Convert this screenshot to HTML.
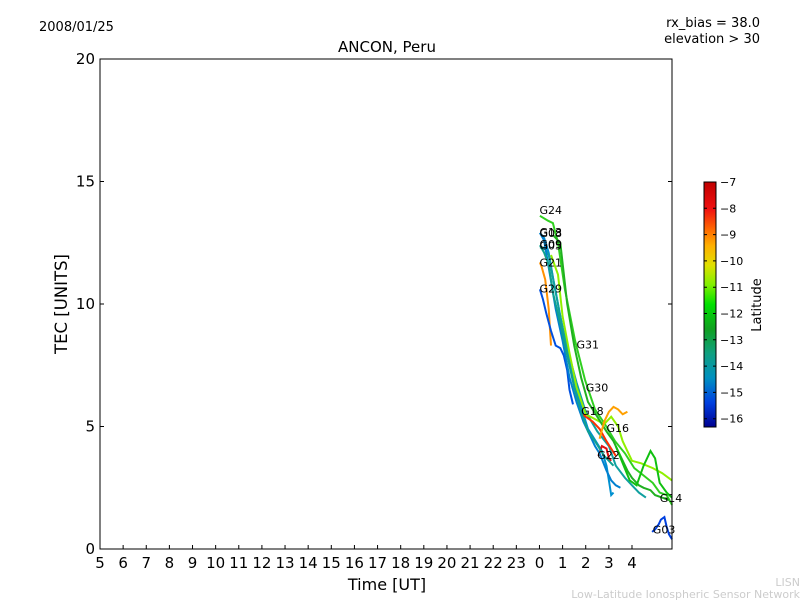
<!DOCTYPE html>
<html><head><meta charset="utf-8"><style>
body{margin:0;background:#fff;}
svg{display:block;font-family:"DejaVu Sans","Liberation Sans",sans-serif;}
</style></head><body>
<svg id="chart" width="800" height="600">
<defs><linearGradient id="jet" x1="0" y1="0" x2="0" y2="1">
<stop offset="0" stop-color="#c00000"/><stop offset="0.11" stop-color="#f01010"/>
<stop offset="0.2" stop-color="#ff7000"/><stop offset="0.26" stop-color="#ffb000"/>
<stop offset="0.34" stop-color="#e0e000"/><stop offset="0.42" stop-color="#80f000"/>
<stop offset="0.5" stop-color="#00e000"/><stop offset="0.6" stop-color="#10a020"/>
<stop offset="0.7" stop-color="#10a080"/><stop offset="0.8" stop-color="#0090c0"/>
<stop offset="0.9" stop-color="#0040e0"/><stop offset="1" stop-color="#000090"/>
</linearGradient></defs>
<text x="39" y="31" font-size="13">2008/01/25</text>
<text x="760" y="27" font-size="13" text-anchor="end">rx_bias = 38.0</text>
<text x="760" y="43" font-size="13" text-anchor="end">elevation &gt; 30</text>
<text x="387" y="52" font-size="15" text-anchor="middle">ANCON, Peru</text>
<g id="series"></g>
<rect x="100" y="59" width="572" height="490" fill="none" stroke="#000"/>
<g id="xticks"></g>
<g id="yticks"></g>
<text x="387" y="590" font-size="16" text-anchor="middle">Time [UT]</text>
<text transform="translate(67,304) rotate(-90)" font-size="16.5" text-anchor="middle">TEC [UNITS]</text>
<rect x="704" y="182" width="12" height="245" fill="url(#jet)" stroke="#000"/>
<g id="cbticks"></g>
<text transform="translate(761,305) rotate(-90)" font-size="13" text-anchor="middle">Latitude</text>
<text x="800" y="586" font-size="11" fill="#ccc" text-anchor="end">LISN</text>
<text x="800" y="598" font-size="11" fill="#ccc" text-anchor="end">Low-Latitude Ionospheric Sensor Network</text>
</svg>
<script>
const xTickLabels=["5","6","7","8","9","10","11","12","13","14","15","16","17","18","19","20","21","22","23","0","1","2","3","4"];
const yTickValues=[0,5,10,15,20];
const cbTickValues=[-7,-8,-9,-10,-11,-12,-13,-14,-15,-16];
const satNames=["G24","G08","G05","G21","G29","G31","G30","G18","G16","G22","G14","G03","G13","G09"];
const satColors=["#30d020","#0090d0","#10a0a0","#ff9000","#0050e0","#90f000","#20b020","#ff3000","#ffa000","#e01010","#10c010","#0040e0","#0080d0","#10a090"];
const satHours=[
[24.02,24.37,24.58,24.8,25.1,25.54,25.97,26.4,26.83,27.27,27.7,28.1,28.5,28.9,29.2,29.5,29.73],
[24.02,24.2,24.4,24.6,24.8,25.0,25.3,25.6,25.9,26.1,26.3,26.5,26.7,26.9,27.0,27.1,27.2],
[24.02,24.2,24.4,24.6,24.9,25.2,25.6,26.0,26.5,27.0,27.3,27.7,28.0,28.3,28.6],
[24.02,24.1,24.25,24.4,24.5],
[24.02,24.15,24.3,24.5,24.7,24.9,25.05,25.2,25.3,25.45],
[24.5,24.8,25.0,25.3,25.6,26.0,26.4,26.8,27.1,27.4,27.6,28.0,28.4,28.9,29.3,29.73],
[24.6,24.9,25.2,25.5,25.8,26.1,26.5,26.9,27.2,27.5,27.8,28.0,28.3,28.5,28.8,29.0,29.3,29.6],
[25.75,26.0,26.3,26.6,26.9,27.1,27.3],
[26.6,26.8,27.0,27.2,27.4,27.6,27.8],
[26.55,26.7,26.9,27.0,27.1],
[27.3,27.6,27.9,28.2,28.5,28.8,29.0,29.2,29.5,29.73],
[28.87,29.0,29.15,29.25,29.4,29.5,29.6,29.73],
[24.02,24.2,24.4,24.7,25.0,25.3,25.6,25.9,26.2,26.4,26.6,26.9,27.1,27.3,27.5],
[24.02,24.2,24.4,24.6,24.9,25.2,25.5,25.8,26.1,26.4,26.8,27.2]];
const satTec=[
[13.6,13.4,13.3,12.5,10.6,8.5,6.9,5.7,5.1,4.4,3.9,3.3,3.0,2.7,2.3,2.2,1.8],
[12.9,12.7,12.1,11.0,10.0,9.0,7.8,6.5,5.5,4.9,4.6,4.3,4.0,3.4,2.8,2.2,2.3],
[12.3,12.3,12.0,11.0,9.5,8.2,6.8,5.6,4.8,4.2,3.4,2.9,2.6,2.3,2.1],
[11.7,11.5,11.0,9.8,8.3],
[10.6,10.2,9.6,8.9,8.3,8.2,7.9,7.3,6.5,5.9],
[12.0,11.2,9.5,8.0,6.6,5.5,5.3,5.1,5.4,5.0,4.4,3.6,3.5,3.3,3.1,2.8],
[12.8,12.5,10.0,8.3,7.0,6.0,5.4,4.8,4.4,3.8,3.2,2.9,2.6,2.5,2.4,2.2,2.1,2.0],
[5.6,5.4,5.2,4.9,4.4,4.1,3.8],
[4.5,5.2,5.6,5.8,5.7,5.5,5.6],
[3.8,4.2,4.1,3.7,3.6],
[4.2,3.5,2.8,2.6,3.4,4.0,3.7,2.7,2.3,2.1],
[0.7,0.8,1.0,1.2,1.3,0.9,0.6,0.4],
[12.9,12.6,11.5,9.8,8.5,7.0,6.0,5.2,4.6,4.2,3.9,3.2,2.8,2.6,2.5],
[12.4,12.1,11.6,10.4,9.2,7.9,6.6,5.6,4.8,4.4,3.8,3.4]];
const labelHours=[24.0,24.0,24.0,24.0,24.0,25.6,26.0,25.8,26.9,26.5,29.2,28.9,24.0,24.0];
const labelTec=[13.8,12.85,12.35,11.65,10.6,8.3,6.55,5.6,4.9,3.8,2.05,0.75,12.9,12.4];
const labelText=["G24","G08","G05","G21","G29","G31","G30","G18","G16","G22","G14","G03","G13","G09"];

const NS="http://www.w3.org/2000/svg";
const X0=100,X1=672,Y0=549,Y1=59,XMIN=5,XMAX=29.73,YMIN=0,YMAX=20;
const xs=h=>X0+(h-XMIN)/(XMAX-XMIN)*(X1-X0);
const ys=v=>Y0-(v-YMIN)/(YMAX-YMIN)*(Y0-Y1);
const cbY=v=>182+(-7-v)*26.3;
function mk(tag,attrs,parent){const e=document.createElementNS(NS,tag);for(const k in attrs)e.setAttribute(k,attrs[k]);parent.appendChild(e);return e;}
const sg=document.getElementById('series');
satHours.forEach((hs,i)=>{
  const pts=hs.map((h,j)=>xs(h).toFixed(1)+","+ys(satTec[i][j]).toFixed(1)).join(" ");
  const p=mk('polyline',{points:pts,fill:"none",stroke:satColors[i],"stroke-width":2},sg);
  
  
});
labelText.forEach((t,i)=>{
  const e=mk('text',{x:xs(labelHours[i]),y:ys(labelTec[i])+3,"font-size":11},sg);
  e.textContent=t;
  
  
});
const xg=document.getElementById('xticks');
xTickLabels.forEach((t,i)=>{
  const x=xs(XMIN+i);
  const l=mk('line',{x1:x,x2:x,y1:Y0,y2:Y0-4,stroke:"#000"},xg);
  
  
  const tx=mk('text',{x:x,y:568,"font-size":15,"text-anchor":"middle"},xg);
  tx.textContent=t;
  
  
});
const yg=document.getElementById('yticks');
yTickValues.forEach(v=>{
  const y=ys(v);
  const l=mk('path',{d:`M${X0},${y}h4M${X1},${y}h-4`,stroke:"#000"},yg);
  
  
  const tx=mk('text',{x:95,y:y+5,"font-size":15,"text-anchor":"end"},yg);
  tx.textContent=v;
  
  
});
const cg=document.getElementById('cbticks');
cbTickValues.forEach(v=>{
  const y=cbY(v);
  const l=mk('path',{d:`M716,${y}h-3M704,${y}h3`,stroke:"#000"},cg);
  
  
  const tx=mk('text',{x:720,y:y+4,"font-size":11},cg);
  tx.textContent="\u2212"+Math.abs(v);
  
  
});
</script>
</body></html>
